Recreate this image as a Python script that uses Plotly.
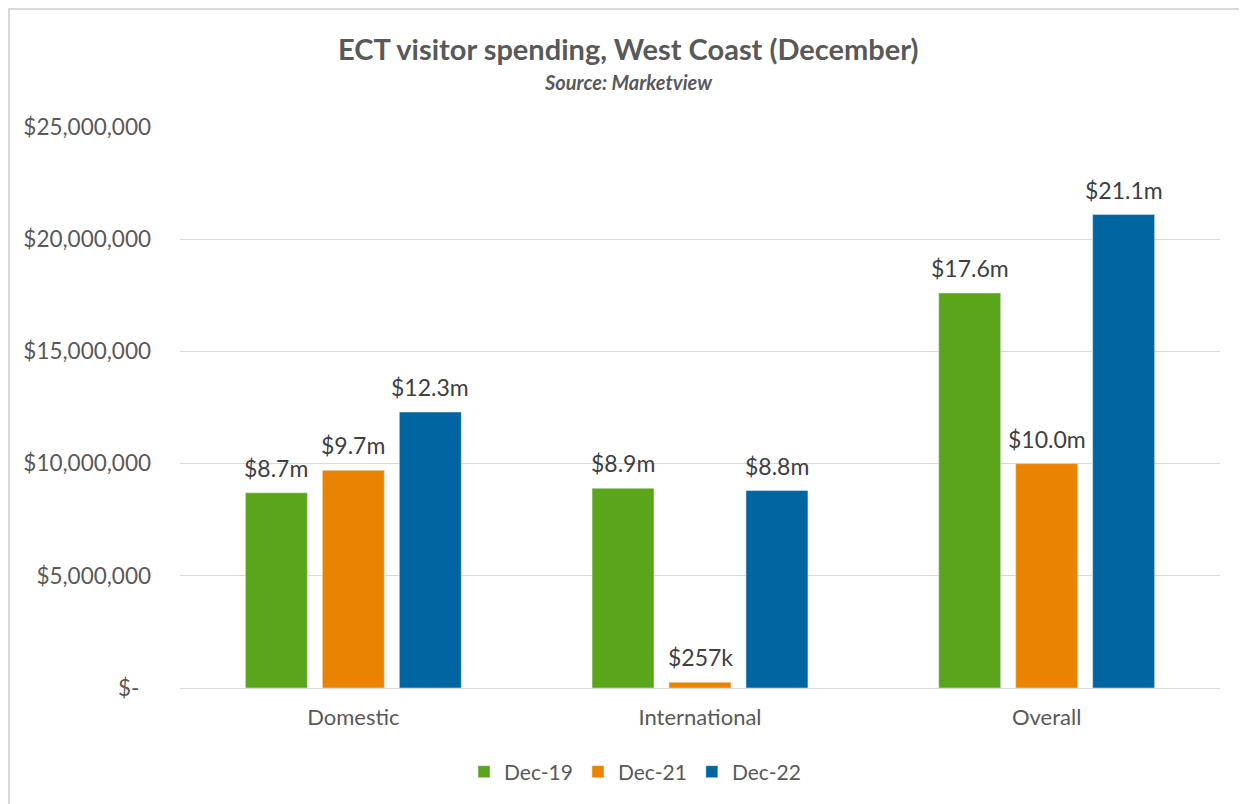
import plotly.graph_objects as go

categories = ["Domestic", "International", "Overall"]
series_names = ["Dec-19", "Dec-21", "Dec-22"]
dec19 = [8700000, 8900000, 17600000]
dec21 = [9700000, 257000, 10000000]
dec22 = [12300000, 8800000, 21100000]
labels19 = ["$8.7m", "$8.9m", "$17.6m"]
labels21 = ["$9.7m", "$257k", "$10.0m"]
labels22 = ["$12.3m", "$8.8m", "$21.1m"]
colors = ["#5AA51A", "#EA8400", "#0065A1"]
tick_vals = [0, 5000000, 10000000, 15000000, 20000000, 25000000]
tick_text = ["$-\u00a0\u00a0", "$5,000,000", "$10,000,000", "$15,000,000", "$20,000,000", "$25,000,000"]

FONT = "Lato"
TXT = "#595959"

L, T, PW, PH = 172, 119, 1040, 561
W, H = 1247, 804

fig = go.Figure()
annotations = []
shifts = [-77, 0, 77]
for name, vals, labs, col, sh in zip(series_names, [dec19, dec21, dec22],
                                     [labels19, labels21, labels22], colors, shifts):
    fig.add_trace(go.Bar(x=categories, y=vals, name=name, marker_color=col))
    for c, v, lab in zip(categories, vals, labs):
        annotations.append(dict(x=c, y=v, xref="x", yref="y", text=lab,
                                showarrow=False, xshift=sh, yshift=9,
                                xanchor="center", yanchor="bottom",
                                font=dict(family=FONT, size=23, color="#404040")))

annotations += [
    dict(text="<b>ECT visitor spending, West Coast (December)</b>",
         xref="paper", yref="paper", x=(620 - L) / PW, y=1 + (T - 41) / PH,
         xanchor="center", yanchor="middle", showarrow=False,
         font=dict(family=FONT, size=29, color=TXT)),
    dict(text="<b><i>Source: Marketview</i></b>",
         xref="paper", yref="paper", x=(620 - L) / PW, y=1 + (T - 74) / PH,
         xanchor="center", yanchor="middle", showarrow=False,
         font=dict(family=FONT, size=20, color=TXT)),
]

fig.update_layout(
    width=W, height=H,
    margin=dict(l=L, r=W - L - PW, t=T, b=H - T - PH),
    paper_bgcolor="white", plot_bgcolor="white",
    barmode="group", bargap=0.334, bargroupgap=0.195,
    font=dict(family=FONT, color=TXT),
    showlegend=True,
    legend=dict(orientation="h", x=(627 - L) / PW, xanchor="center",
                y=-(764 - (T + PH)) / PH, yanchor="middle",
                font=dict(family=FONT, size=21, color=TXT), traceorder="normal",
                itemwidth=30),
    xaxis=dict(showgrid=False, showline=False, ticks="", ticklabelstandoff=14,
               tickfont=dict(family=FONT, size=22, color=TXT)),
    yaxis=dict(range=[0, 25000000], tickvals=tick_vals, ticktext=tick_text,
               showgrid=True, gridcolor="#D9D9D9", gridwidth=1.3,
               zeroline=True, zerolinecolor="#D9D9D9", zerolinewidth=1.3,
               showline=False, ticklabelstandoff=28,
               tickfont=dict(family=FONT, size=22.5, color=TXT)),
    annotations=annotations,
    shapes=[dict(type="rect", xref="paper", yref="paper",
                 x0=(1 - L) / PW, x1=1.2, y0=-0.4, y1=1 + (T - 1) / PH,
                 line=dict(color="#D9D9D9", width=2), layer="below")],
)

fig.write_html("out.html")
